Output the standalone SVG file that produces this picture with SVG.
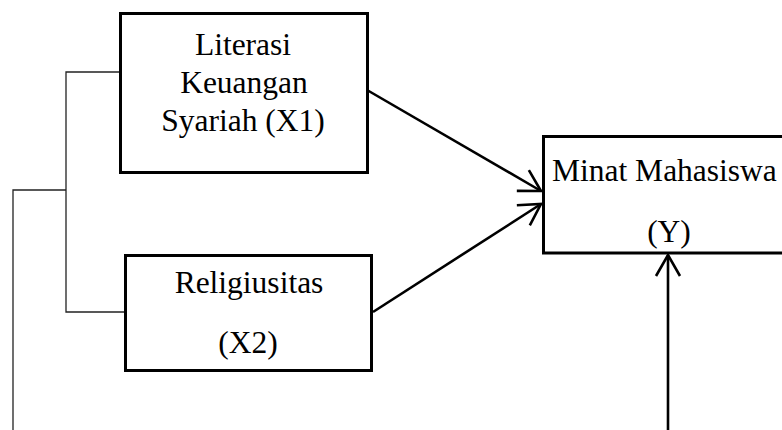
<svg xmlns="http://www.w3.org/2000/svg" width="782" height="430" viewBox="0 0 782 430">
<style>
.box{fill:#fff;stroke:#000;stroke-width:3}
.t{font-family:"Liberation Serif","Times New Roman",serif;font-size:31.5px;fill:#000}
.c{text-anchor:middle}
.arr{fill:none;stroke:#000;stroke-width:2.6}
.thin{fill:none;stroke:#222;stroke-width:1.3}
</style>
<defs>
<marker id="ah" markerUnits="userSpaceOnUse" markerWidth="30" markerHeight="30" viewBox="-25 -15 30 30" refX="0" refY="0" orient="auto" overflow="visible">
<path d="M-21,-12 L0,0 L-21,12" fill="none" stroke="#000" stroke-width="2.6"/>
</marker>
</defs>
<rect width="782" height="430" fill="#fff"/>
<g id="connectors">
<polyline class="thin" points="119,72 66,72 66,312 124,312"/>
<polyline class="thin" points="66,190 13,190 13,430"/>
<line class="arr" x1="367" y1="90" x2="541" y2="191" marker-end="url(#ah)"/>
<line class="arr" x1="373" y1="312" x2="541" y2="204" marker-end="url(#ah)"/>
<line class="arr" x1="668" y1="430" x2="668" y2="255" marker-end="url(#ah)"/>
</g>
<g id="x1">
<rect class="box" x="120.5" y="13.5" width="247" height="159"/>
<text class="t c" x="243" y="55">Literasi</text>
<text class="t c" x="244" y="93">Keuangan</text>
<text class="t c" x="243" y="131">Syariah (X1)</text>
</g>
<g id="x2">
<rect class="box" x="125.5" y="255.5" width="246" height="115"/>
<text class="t c" x="249" y="293">Religiusitas</text>
<text class="t c" x="248" y="353">(X2)</text>
</g>
<g id="y">
<rect class="box" x="543.5" y="136.5" width="260" height="116.5"/>
<text class="t" x="552" y="181">Minat Mahasiswa</text>
<text class="t c" x="669" y="242">(Y)</text>
</g>
</svg>
